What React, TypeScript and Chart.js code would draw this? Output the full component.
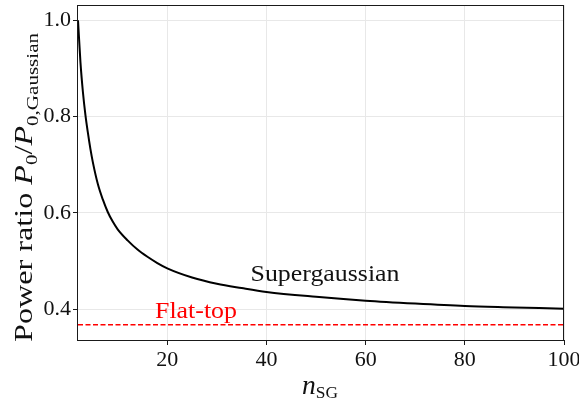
import React, { useEffect, useRef } from "react";
import { Chart, registerables } from "chart.js";

Chart.register(...registerables);

// ---- data ----
const nSG = [2, 2.5, 3, 3.5, 4, 4.5, 5, 6, 7, 8, 9, 10, 12, 14, 16, 18, 20, 25, 30, 35, 40, 50, 60, 70, 80, 90, 100];
const powerRatio = [
  1.0, 0.912, 0.85, 0.803, 0.766, 0.733, 0.705, 0.66, 0.628, 0.602, 0.582, 0.566, 0.543, 0.524, 0.509, 0.496,
  0.485, 0.466, 0.453, 0.444, 0.436, 0.426, 0.418, 0.412, 0.407, 0.404, 0.401,
];
const flatTopValue = 0.368;
const xTicks = [20, 40, 60, 80, 100];
const yTicks = [0.4, 0.6, 0.8, 1.0];
const xRange = [2, 100];
const yRange = [0.3363, 1.0316];

const SERIF = "'Liberation Serif', serif";

type Seg = { text: string; font: string; dy: number };

function drawRich(
  ctx: CanvasRenderingContext2D,
  segs: Seg[],
  x: number,
  y: number,
  angle: number,
  target: number,
  color: string
) {
  ctx.save();
  ctx.translate(x, y);
  ctx.rotate(angle);
  let w = 0;
  for (const s of segs) {
    ctx.font = s.font;
    w += ctx.measureText(s.text).width;
  }
  const sx = target > 0 ? target / w : 1;
  ctx.scale(sx, 1);
  ctx.fillStyle = color;
  ctx.textAlign = "left";
  ctx.textBaseline = "alphabetic";
  let cx = 0;
  for (const s of segs) {
    ctx.font = s.font;
    ctx.fillText(s.text, cx, s.dy);
    cx += ctx.measureText(s.text).width;
  }
  ctx.restore();
}

const textPlugin = {
  id: "richText",
  afterDraw(chart: any) {
    const ctx: CanvasRenderingContext2D = chart.ctx;
    const { left, right, top, bottom } = chart.chartArea;
    ctx.save();
    ctx.strokeStyle = "#1a1a1a";
    ctx.lineWidth = 1;
    ctx.strokeRect(Math.round(left) - 0.5, Math.round(top) + 0.5, Math.round(right - left), Math.round(bottom - top));
    ctx.restore();

    // y-axis label
    drawRich(
      ctx,
      [
        { text: "Power ratio ", font: `26px ${SERIF}`, dy: 0 },
        { text: "P", font: `italic 26px ${SERIF}`, dy: 0 },
        { text: "0", font: `17px ${SERIF}`, dy: 5 },
        { text: "/", font: `26px ${SERIF}`, dy: 0 },
        { text: "P", font: `italic 26px ${SERIF}`, dy: 0 },
        { text: "0,Gaussian", font: `17px ${SERIF}`, dy: 6 },
      ],
      32,
      342,
      -Math.PI / 2,
      309,
      "#111"
    );

    // x-axis label
    drawRich(
      ctx,
      [
        { text: "n", font: `italic 27px ${SERIF}`, dy: 0 },
        { text: "SG", font: `17px ${SERIF}`, dy: 4 },
      ],
      302,
      394,
      0,
      36,
      "#111"
    );

    // annotations
    drawRich(ctx, [{ text: "Supergaussian", font: `23px ${SERIF}`, dy: 0 }], 250.5, 281, 0, 149, "#111");
    drawRich(ctx, [{ text: "Flat-top", font: `23px ${SERIF}`, dy: 0 }], 155, 317.5, 0, 82, "#ff0000");
  },
};

export default function App() {
  const ref = useRef<HTMLCanvasElement | null>(null);

  useEffect(() => {
    if (!ref.current) return;
    const chart = new Chart(ref.current, {
      type: "scatter",
      data: {
        datasets: [
          {
            data: nSG.map((x, i) => ({ x, y: powerRatio[i] })),
            showLine: true,
            borderColor: "#000000",
            borderWidth: 2,
            pointRadius: 0,
            cubicInterpolationMode: "monotone",
            fill: false,
          },
          {
            data: [
              { x: xRange[0], y: flatTopValue },
              { x: xRange[1], y: flatTopValue },
            ],
            showLine: true,
            borderColor: "#ff0000",
            borderWidth: 1.3,
            borderDash: [5, 2.5],
            pointRadius: 0,
            fill: false,
          },
        ],
      },
      options: {
        responsive: false,
        animation: false,
        devicePixelRatio: 1,
        layout: { padding: { top: 5, right: 15, left: 0, bottom: 0 } },
        plugins: { legend: { display: false }, tooltip: { enabled: false } },
        scales: {
          x: {
            type: "linear",
            min: xRange[0],
            max: xRange[1],
            afterBuildTicks: (s: any) => {
              s.ticks = xTicks.map((v) => ({ value: v }));
            },
            afterFit: (s: any) => {
              s.height = 62;
              s.paddingLeft = 0;
              s.paddingRight = 0;
            },
            grid: { color: "#e8e8e8", tickColor: "#1a1a1a", tickLength: 5, lineWidth: 1 },
            border: { display: false },
            ticks: {
              font: { family: SERIF, size: 22 },
              color: "#111",
              padding: 2,
              maxRotation: 0,
              autoSkip: false,
              callback: (v: any) => String(v),
            },
          },
          y: {
            type: "linear",
            min: yRange[0],
            max: yRange[1],
            afterBuildTicks: (s: any) => {
              s.ticks = yTicks.map((v) => ({ value: v }));
            },
            afterFit: (s: any) => {
              s.width = 78;
              s.paddingTop = 0;
              s.paddingBottom = 0;
            },
            grid: { color: "#e8e8e8", tickColor: "#1a1a1a", tickLength: 5, lineWidth: 1 },
            border: { display: false },
            ticks: {
              font: { family: SERIF, size: 22 },
              color: "#111",
              padding: 2,
              autoSkip: false,
              callback: (v: any) => Number(v).toFixed(1),
            },
          },
        },
      },
      plugins: [textPlugin],
    } as any);
    return () => chart.destroy();
  }, []);

  return (
    <div style={{ position: "fixed", left: 0, top: 0, width: 579, height: 402, background: "#fff" }}>
      <canvas ref={ref} width={579} height={402} style={{ display: "block" }} />
    </div>
  );
}
